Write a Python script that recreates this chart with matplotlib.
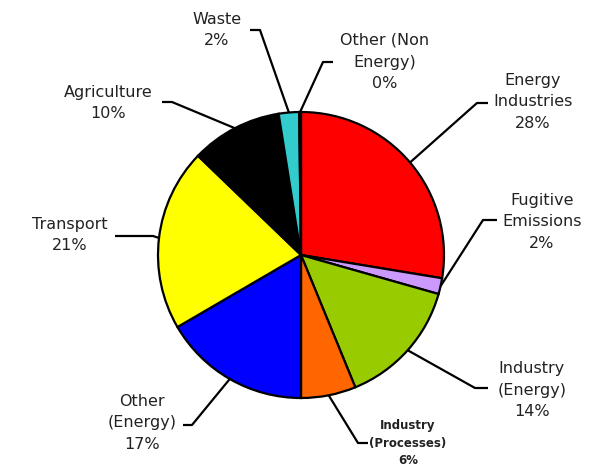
import matplotlib
matplotlib.use("Agg")
import matplotlib.pyplot as plt
import numpy as np

categories = ["Energy\nIndustries", "Fugitive\nEmissions", "Industry\n(Energy)",
              "Industry\n(Processes)", "Other\n(Energy)", "Transport",
              "Agriculture", "Waste", "Other (Non\nEnergy)"]
values = [27.6, 1.8, 14.4, 6.2, 16.6, 20.6, 10.3, 2.3, 0.2]
colors = ["#FF0000", "#CC99FF", "#99CC00", "#FF6600", "#0000FF", "#FFFF00",
          "#000000", "#33CCCC", "#FFFFFF"]

W, H = 600, 467
fig = plt.figure(figsize=(6, 4.67), dpi=100)
ax = fig.add_axes([0, 0, 1, 1])

cx, cy, r = 301, H - 255, 143
wedges, _ = ax.pie(values, colors=colors, startangle=90, counterclock=False,
                   center=(cx, cy), radius=r,
                   wedgeprops=dict(edgecolor="black", linewidth=1.6))
ax.set_xlim(0, W)
ax.set_ylim(0, H)
ax.set_aspect("equal")
ax.axis("off")

# layout: (text x, text y, line y, horizontal end x, elbow x) in pixel coords
layout = [
    (533, 102, 103, 488, 477),
    (542, 222, 220, 497, 483),
    (532, 390, 388, 488, 475),
    (408, 443, 443, 368, 358),
    (142, 423, 425, 183, 192),
    (70, 235, 236, 115, 153),
    (108, 103, 102, 162, 172),
    (217, 30, 30, 250, 260),
    (385, 62, 62, 333, 323),
]

for w, name, v, (tx, ty, ly, hx, ex) in zip(wedges, categories, values, layout):
    mid = np.deg2rad((w.theta1 + w.theta2) / 2)
    px = cx + r * np.cos(mid)
    py = cy + r * np.sin(mid)
    ax.plot([px, ex, hx], [py, H - ly, H - ly], color="black", lw=1.6,
            solid_capstyle="butt", zorder=1)
    small = "Processes" in name
    ax.text(tx, H - ty, f"{name}\n{round(v)}%", ha="center", va="center",
            fontsize=8.5 if small else 11.5,
            fontweight="bold" if small else "normal",
            color="#222222", linespacing=1.45 if small else 1.55,
            family="DejaVu Sans")

fig.savefig("out.png", dpi=100)
